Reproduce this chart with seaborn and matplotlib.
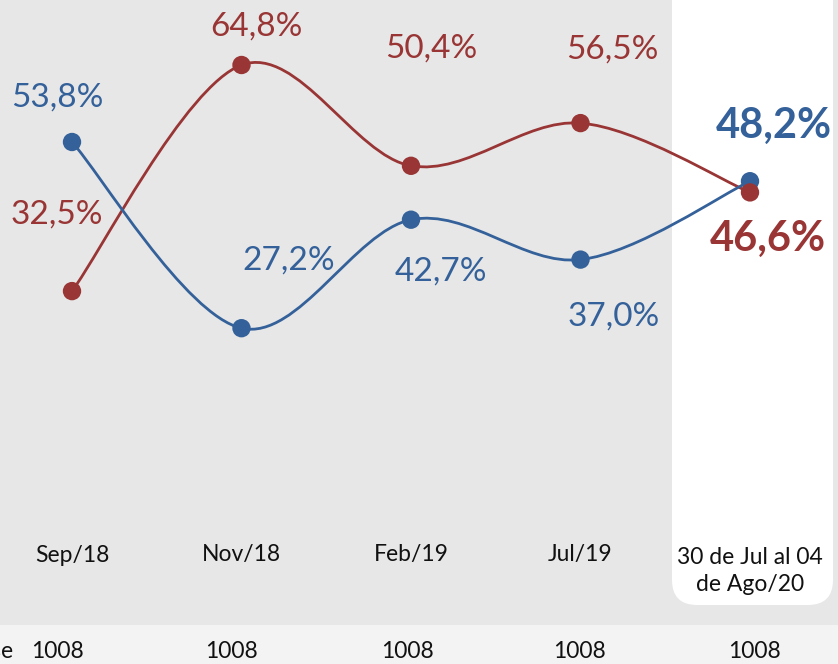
import numpy as np
import pandas as pd
import matplotlib
matplotlib.use("Agg")
import matplotlib.pyplot as plt
import seaborn as sns
from matplotlib.path import Path
from matplotlib.patches import PathPatch, FancyBboxPatch, Rectangle

# data
periods = ["Sep/18", "Nov/18", "Feb/19", "Jul/19", "30 de Jul al 04\nde Ago/20"]
blue_vals = [53.8, 27.2, 42.7, 37.0, 48.2]
red_vals = [32.5, 64.8, 50.4, 56.5, 46.6]
base_n = ["1008", "1008", "1008", "1008", "1008"]

BLUE = "#34619a"
RED = "#993535"

# label offsets in pixels (dx, dy) relative to each point
blue_off = [(-15, 44), (47, 68), (30, -52), (33, -57), (24, 55)]
red_off = [(-15, 77), (15, 38), (20, 117), (32, 74), (18, -47)]
base_dx = [-15, -10, -4, -1, 4]

sns.set_theme(style="white")
plt.rcParams["font.family"] = ["Lato", "DejaVu Sans"]

fig = plt.figure(figsize=(8.38, 6.64), dpi=100, facecolor="#e7e7e7")
ax = fig.add_axes([0, 0, 1, 1])
ax.set_facecolor("none")
ax.set_zorder(2)

# x: point 0 at 72px, spacing 169.5px ; y: 7px per percent, 53.8 at 142px from top
step = 169.5
ax.set_xlim(-72 / step, (838 - 72) / step)
ax.set_ylim(53.8 - (664 - 142) / 7.0, 53.8 + 142 / 7.0)

# background pieces in pixel coords
ftr = fig.transFigure
def px(x, y):
    return (x / 838, 1 - y / 664)

fig.patches.append(Rectangle(px(0, 664), 1, 39 / 664, transform=ftr,
                             facecolor="#f3f3f3", edgecolor="none", zorder=0))
box = FancyBboxPatch(px(672, 605), 161 / 838, 640 / 664,
                     boxstyle="round,pad=0,rounding_size=0.03",
                     transform=ftr, facecolor="white", edgecolor="none",
                     mutation_aspect=838 / 664, zorder=0)
fig.patches.append(box)


def smooth_path(xs, ys):
    # Excel-like smoothed line: cubic bezier through the points
    pts = np.column_stack([xs, ys]).astype(float)
    verts = [pts[0]]
    codes = [Path.MOVETO]
    n = len(pts)
    for i in range(n - 1):
        p0 = pts[max(i - 1, 0)]
        p1 = pts[i]
        p2 = pts[i + 1]
        p3 = pts[min(i + 2, n - 1)]
        c1 = p1 + (p2 - p0) / 6.0
        c2 = p2 - (p3 - p1) / 6.0
        verts += [c1, c2, p2]
        codes += [Path.CURVE4] * 3
    return Path(verts, codes)


df = pd.DataFrame({"x": range(len(periods)), "blue": blue_vals, "red": red_vals})

for col, color in [("red", RED), ("blue", BLUE)]:
    ax.add_patch(PathPatch(smooth_path(df["x"], df[col]), facecolor="none",
                           edgecolor=color, lw=2.0, zorder=2))

sns.scatterplot(data=df, x="x", y="blue", color=BLUE, s=175, edgecolor="none",
                zorder=3, ax=ax, legend=False)
sns.scatterplot(data=df, x="x", y="red", color=RED, s=175, edgecolor="none",
                zorder=4, ax=ax, legend=False)
ax.set_axis_off()

last = len(periods) - 1
for i in range(len(periods)):
    for vals, offs, color in [(blue_vals, blue_off, BLUE), (red_vals, red_off, RED)]:
        bold = i == last
        ax.annotate(f"{vals[i]:.1f}%".replace(".", ","), (i, vals[i]),
                    xytext=offs[i], textcoords="offset pixels",
                    ha="center", va="center", color=color,
                    fontsize=30 if bold else 24,
                    fontweight="bold" if bold else "normal", zorder=5)

# category labels and base row
lab_tr = ax.get_xaxis_transform()
for i, lab in enumerate(periods):
    y = 1 - 555 / 664 if "\n" not in lab else 1 - 571 / 664
    ax.text(i, y, lab, transform=lab_tr, ha="center", va="center",
            fontsize=16.5, color="#111111", linespacing=1.3)
    ax.annotate(base_n[i], (i, 1 - 652 / 664), xycoords=lab_tr,
                xytext=(base_dx[i], 0), textcoords="offset pixels",
                ha="center", va="center", fontsize=16.5, color="#111111")
fig.text(14 / 838, 1 - 652 / 664, "Base", ha="right", va="center",
         fontsize=16.5, color="#111111")

fig.savefig("out.png", dpi=100, facecolor=fig.get_facecolor())
